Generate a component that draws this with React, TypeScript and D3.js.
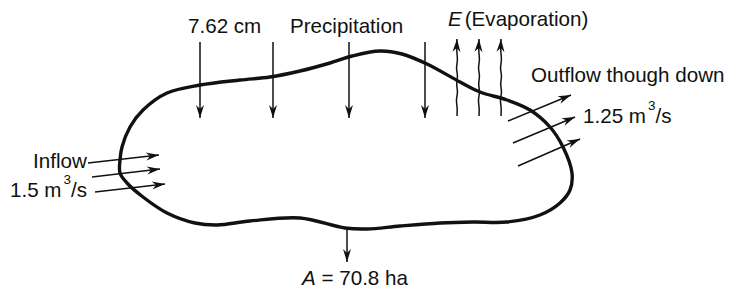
import * as d3 from "d3";
import { useEffect, useRef } from "react";

// catchment outline, clockwise from the left edge (diagram units)
const outlineX = [120, 122, 130, 143, 167, 200, 240, 270, 300, 330, 352, 380, 402, 427, 460, 480, 507, 530, 550, 563, 572, 570, 560, 540, 507, 473, 440, 400, 367, 345, 300, 250, 217, 195, 167, 143, 127, 120];
const outlineY = [160, 147, 127, 110, 93, 85, 80, 77, 71, 63, 56, 51, 54, 64, 82, 92, 100, 110, 127, 147, 173, 190, 203, 215, 222, 222, 223, 226, 229, 228, 218, 221, 225, 223, 213, 197, 183, 173];

// precipitation arrows (straight down)
const rainX = [200, 273, 349, 425];
const rainTop = 42;
const rainBottom = 118;

// evaporation arrows (wavy, upward)
const evapX = [457, 479, 501];
const evapY = [116, 108, 100, 92, 84, 76, 68, 60, 52, 39];
const evapWiggle = [0, 0.5, -1.2, 1.2, -1, 1.2, -1.2, 1, -0.5, 0];

// inflow / outflow arrows [x1, y1, x2, y2]
const inflow = [
  [88, 163, 159, 155],
  [92, 177, 160, 169],
  [95, 192, 165, 184],
];
const outflow = [
  [508, 121, 571, 95],
  [513, 143, 575, 117],
  [518, 166, 580, 139],
];
const areaArrow = [347, 228, 347, 262];

const FONT = "'Liberation Sans', Arial, sans-serif";

const App = () => {
  const width = 730;
  const height = 291;
  const ref = useRef(null);

  useEffect(() => {
    if (!ref.current) return;
    const svg = d3.select(ref.current);
    svg.selectAll("*").remove();

    const x = d3.scaleLinear([0, 730], [0, width]);
    const y = d3.scaleLinear([0, 291], [0, height]);

    svg
      .append("defs")
      .append("marker")
      .attr("id", "head")
      .attr("viewBox", "-14 -5 16 10")
      .attr("refX", 0)
      .attr("refY", 0)
      .attr("markerWidth", 16)
      .attr("markerHeight", 10)
      .attr("markerUnits", "userSpaceOnUse")
      .attr("orient", "auto")
      .append("path")
      .attr("d", "M0,0 L-13,-4 L-9,0 L-13,4 Z")
      .attr("fill", "#111");

    // outline
    const outline = d3
      .line<number>()
      .x((_, i) => x(outlineX[i]))
      .y((_, i) => y(outlineY[i]))
      .curve(d3.curveCatmullRomClosed.alpha(0.5));
    svg
      .append("path")
      .attr("d", outline(outlineX))
      .attr("fill", "none")
      .attr("stroke", "#111")
      .attr("stroke-width", 3.4);

    const arrows = svg.append("g").attr("stroke", "#111").attr("stroke-width", 1.5).attr("fill", "none");

    rainX.forEach((rx) => {
      arrows
        .append("line")
        .attr("x1", x(rx))
        .attr("y1", y(rainTop))
        .attr("x2", x(rx))
        .attr("y2", y(rainBottom))
        .attr("marker-end", "url(#head)");
    });

    const wavy = d3
      .line<number>()
      .x((d) => d)
      .y((_, i) => y(evapY[i]))
      .curve(d3.curveBasis);
    evapX.forEach((ex) => {
      arrows
        .append("path")
        .attr("d", wavy(evapWiggle.map((w) => x(ex + w))))
        .attr("marker-end", "url(#head)");
    });

    [...inflow, ...outflow, areaArrow].forEach((a) => {
      arrows
        .append("line")
        .attr("x1", x(a[0]))
        .attr("y1", y(a[1]))
        .attr("x2", x(a[2]))
        .attr("y2", y(a[3]))
        .attr("marker-end", "url(#head)");
    });

    const text = svg.append("g").attr("font-family", FONT).attr("font-size", 20.6).attr("fill", "#111");

    text.append("text").attr("x", x(188)).attr("y", y(33)).text("7.62 cm");
    text.append("text").attr("x", x(290)).attr("y", y(33)).text("Precipitation");

    const evap = text.append("text").attr("x", x(448)).attr("y", y(26));
    evap.append("tspan").attr("font-style", "italic").text("E");
    evap.append("tspan").attr("dx", 3).text("(Evaporation)");

    text.append("text").attr("x", x(531)).attr("y", y(82)).text("Outflow though down");

    const out = text.append("text").attr("x", x(583)).attr("y", y(123));
    out.append("tspan").text("1.25 m");
    out.append("tspan").attr("font-size", 13.5).attr("dx", 2).attr("dy", -13).text("3");
    out.append("tspan").attr("dy", 13).text("/s");

    text.append("text").attr("x", x(33)).attr("y", y(168)).text("Inflow");
    const inf = text.append("text").attr("x", x(10)).attr("y", y(197));
    inf.append("tspan").text("1.5 m");
    inf.append("tspan").attr("font-size", 13.5).attr("dx", 2).attr("dy", -13).text("3");
    inf.append("tspan").attr("dy", 13).text("/s");

    const area = text.append("text").attr("x", x(302)).attr("y", y(285));
    area.append("tspan").attr("font-style", "italic").text("A");
    area.append("tspan").text(" = 70.8 ha");
  }, []);

  return (
    <svg
      width={width}
      height={height}
      ref={ref}
      style={{ position: "absolute", left: 0, top: 0, background: "white" }}
    ></svg>
  );
};

export default App;
